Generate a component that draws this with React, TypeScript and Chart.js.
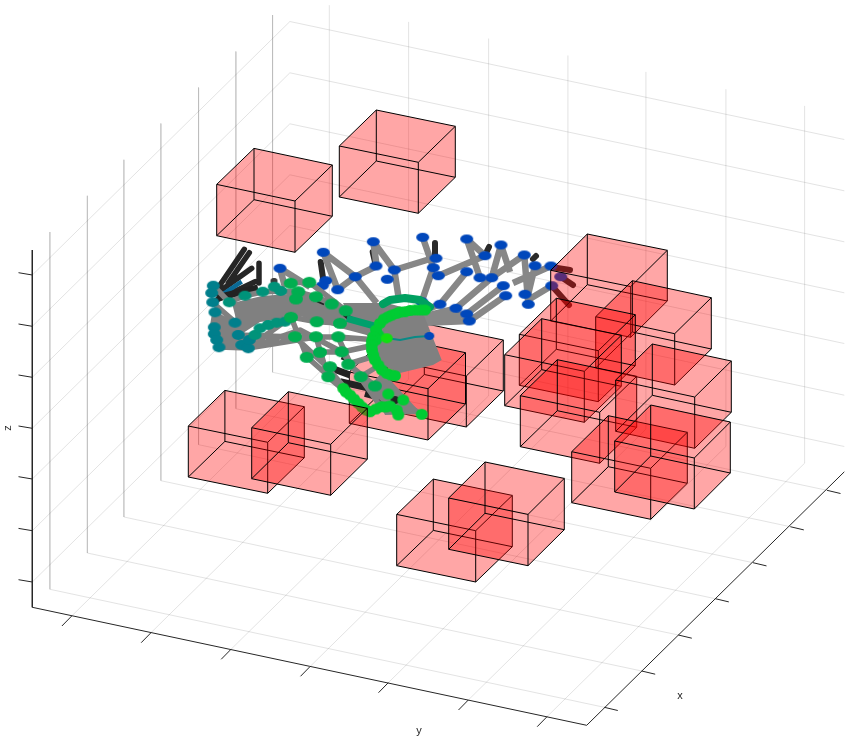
import React, { useEffect, useRef } from "react";
import { Chart, registerables } from "chart.js";

Chart.register(...registerables);

type P = number[];

// Picture-plane readings of the axes frame
const axisOrigin: P = [32.3, 607.3];
const axisYEnd: P = [586.7, 725.3];
const axisXEnd: P = [844.3, 471.8];
const axisZTopY = 250;
const zTickY = [275, 326.3, 377.3, 428.3, 479, 530.7, 582];
const yTickPts: P[] = [[71.7, 616], [151, 632.7], [231, 649.3], [310.3, 666.3], [388.3, 682.7], [468.3, 700], [547, 716.7]];
const xTickPts: P[] = [[604.3, 707.3], [641.7, 671], [678.3, 635], [715.3, 598.7], [753, 562.7], [790.3, 526.7], [827, 490.3]];

// Boxes: front-bottom-left, front-bottom-right, back-bottom-right, height
const boxesBehindHand = [
  { fl: [387.3, 410.5], fr: [466.3, 427], br: [503.3, 391], h: 51 },
  { fl: [349.3, 423.3], fr: [428, 440], br: [465.5, 404], h: 51.3 },
];
const boxesOverHand = [
  { fl: [216.7, 235.7], fr: [295, 252.3], br: [332.3, 216.3], h: 51.3 },
  { fl: [339.3, 197], fr: [418.3, 213.3], br: [455.3, 177.3], h: 51 },
  { fl: [188.3, 477], fr: [267.7, 493.3], br: [304.3, 457.7], h: 51 },
  { fl: [251.7, 478.7], fr: [330.7, 495.3], br: [367.3, 459.3], h: 51 },
  { fl: [396.7, 565.7], fr: [475.7, 582], br: [512.3, 546.7], h: 51.3 },
  { fl: [448.7, 549.3], fr: [528, 565.7], br: [564.3, 529.7], h: 51.3 },
  { fl: [550.7, 321], fr: [630.7, 337.3], br: [667.3, 301], h: 50.7 },
  { fl: [595.7, 368], fr: [674.7, 385], br: [711.3, 349], h: 51.3 },
  { fl: [519.3, 385.3], fr: [598.3, 401.7], br: [635.3, 365.7], h: 51 },
  { fl: [504.7, 405.7], fr: [584.3, 422.3], br: [621.3, 386.3], h: 51 },
  { fl: [520.3, 446.7], fr: [599.7, 463.3], br: [636.7, 427.3], h: 51 },
  { fl: [615.7, 431.3], fr: [694.7, 448.3], br: [731.3, 412.3], h: 51.3 },
  { fl: [571.7, 502.7], fr: [650.7, 519.3], br: [687.3, 483.3], h: 51 },
  { fl: [614.7, 492], fr: [694.3, 509], br: [730.3, 473], h: 51 },
];

// Hand: rods and joints
const blackRodsThin: P[][] = [
  [[435, 243], [435, 256]],
  [[489, 247], [485, 255]],
  [[536, 256], [533, 259]],
  [[320.7, 262], [323.3, 280]],
  [[372.7, 252], [375, 262]],
  [[560.7, 276.7], [573, 285]],
  [[551.7, 285.7], [569, 305]],
  [[551, 267], [570, 270]],
];
const blackRodsLeft: P[][] = [
  [[244.3, 249.3], [218, 288]],
  [[249.3, 252.7], [228.3, 283]],
  [[251.7, 268.3], [220, 291]],
  [[255, 281.7], [216.7, 300]],
  [[259, 263.3], [259, 283]],
  [[274, 281], [274, 286]],
];
const blueLinks: P[][] = [
  [[280, 268.3], [310, 287]],
  [[280, 268.3], [285, 287]],
  [[323.3, 252.3], [355.3, 276.7], [376.7, 266]],
  [[323.3, 252.3], [337.7, 289.7], [355.3, 276.7], [376.7, 303]],
  [[373.3, 241.7], [376.7, 266]],
  [[373.3, 241.7], [394.3, 270], [399, 300]],
  [[394.3, 270], [433.3, 258]],
  [[422.7, 237.3], [433.3, 267.7], [421.7, 301.7]],
  [[438.3, 275.7], [485, 255.7]],
  [[466.7, 239], [480, 277.7]],
  [[466.7, 239], [485, 255.7]],
  [[501, 245], [491.7, 277.7]],
  [[501, 245], [510, 272]],
  [[466.7, 271.7], [440, 304.3], [400, 320]],
  [[491.7, 277.7], [456, 308.3], [410, 320]],
  [[503.3, 285.7], [466.7, 314], [420, 320]],
  [[505.7, 295.7], [469.3, 321], [420, 323]],
  [[524.3, 255], [491.7, 277.7]],
  [[524.3, 255], [528.3, 304.3]],
  [[535, 265.7], [528, 295]],
  [[551, 266], [513, 283]],
  [[551.7, 285.7], [528, 300]],
];
const blueDots: P[] = [
  [373.3, 241.7], [422.7, 237.3], [466.7, 239], [501, 245], [524.3, 255], [485, 255.7], [551, 266], [535, 265.7],
  [394.3, 270], [433.3, 267.7], [436, 258.3], [376, 266], [387.3, 279.3], [438.3, 275.7], [466.7, 271.7], [480, 277.7],
  [491.7, 277.7], [503.3, 285.7], [551.7, 285.7], [560.7, 276.7], [505.7, 295.7], [525, 294.3], [528.3, 304.3],
  [440, 304.3], [456, 308.3], [466.7, 314], [469.3, 321], [421.7, 301.7], [280, 268.3], [323.3, 252.3], [325.7, 280.7],
  [322.3, 285.7], [337.7, 289.7], [355.3, 276.7],
];
const palmRight: P[] = [[343, 303], [387, 303], [423, 313], [427, 323], [441.7, 360], [433, 365], [400, 373], [377, 363], [372, 340], [350, 320]];
const palmTop: P[] = [[232, 303], [262, 296], [300, 293], [345, 306], [385, 310], [378, 338], [340, 328], [300, 316], [260, 322], [240, 335]];
const palmLeft: P[] = [[214, 312], [240, 322], [250, 345], [222, 346], [214, 330]];
const palmLower: P[] = [[383, 372], [421.7, 414], [385, 415], [370, 385]];
const tealRods: P[][] = [
  [[241.7, 281.7], [221.7, 295]],
  [[280, 298], [285, 315]],
];
const darkPieces: P[][] = [
  [[216.7, 298], [258, 288]],
  [[331.7, 368.3], [350, 375]],
  [[340, 381.7], [370, 388.3]],
  [[365, 393.3], [383.3, 398.3]],
  [[345, 313], [351, 318]],
  [[318, 299], [325, 302]],
  [[342, 356], [347, 358]],
];
const meshLinks: P[][] = [
  [[213.3, 285.7], [229, 302], [245, 295.7], [262, 292], [280.7, 291], [298, 292], [316, 297], [331.7, 304], [346, 311], [380, 325]],
  [[212, 302], [235, 322], [262, 300], [296, 299], [340, 323], [378, 335]],
  [[215, 312], [238, 335], [295, 337], [338, 337], [378, 340]],
  [[214, 327], [248, 348], [316, 337]],
  [[216.7, 340], [248, 348], [291, 317], [316.7, 321.7], [340, 323]],
  [[219, 347], [248, 348], [300, 330], [342, 352], [375, 345]],
  [[291, 283], [309, 282], [345, 310], [385, 305]],
  [[307, 357], [320, 352], [342, 352]],
  [[291, 317], [307, 357], [350, 395]],
  [[295, 337], [326, 366], [358, 403]],
  [[316, 337], [328, 377], [370, 412]],
  [[338, 337], [350, 363], [381, 407]],
  [[342, 352], [360, 377], [390, 406]],
  [[348, 364], [375, 386], [398, 410]],
  [[388, 394], [421, 414]],
  [[348, 364], [378, 355]],
  [[360, 377], [380, 365]],
  [[375, 386], [385, 372]],
  [[215, 312], [212, 330]],
  [[235, 322], [241, 345]],
  [[226, 340], [246, 345]],
];
const tealGreenStrip: P[][] = [[[346.7, 318.3], [376.7, 326.7]]];
const backArc: P[][] = [[[383, 304], [390, 300], [405, 298], [420, 300], [430, 307]]];
const palmWire: P[][] = [[[386, 338], [400, 340], [415, 337], [429, 336]]];
const tealDots: P[] = [
  [213.3, 285.7], [211.7, 293], [212.7, 302.3], [215, 312.3], [214.3, 327.3], [214.3, 334], [216.7, 340], [219, 347.3],
  [235, 322.7], [238.3, 335], [241.7, 345], [248.3, 348.3], [249.3, 340],
];
const midDots: P[] = [
  [229.3, 302.3], [245, 295.7], [262.7, 291.7], [255, 335], [260, 328.3], [268.3, 325], [276.7, 322.7], [285, 321.7],
  [274.3, 286.7], [280.7, 291],
];
const greenDots: P[] = [
  [290.7, 283.3], [309.3, 282.3], [298.3, 291.7], [296, 299], [316, 296.7], [331.7, 304], [345.7, 310.7], [291, 317.3],
  [316.7, 321.7], [340, 323.3], [338.3, 336.7], [316, 336.7], [295, 336.7], [320, 352.3], [306.7, 357.3], [341.7, 351.7],
  [348.3, 364.3], [330, 366.7], [328.3, 376.7], [360.7, 376.7], [375, 386],
];
const brightDots: P[] = [
  [343.3, 388.3], [346, 392], [350, 395], [354, 399], [358.3, 403.3], [362, 407], [366, 410], [370, 411.7], [376, 409],
  [381.7, 406.7], [386, 407], [390, 406], [403.3, 400], [396.7, 410], [398.3, 415], [421.7, 414.3], [388.3, 394],
  [378.3, 335], [376, 330], [380, 323.3], [384, 319], [388.3, 316.7], [392, 315], [396.7, 313.3], [400, 312], [405, 311.7],
  [410, 310.5], [415, 310], [420, 310], [425, 310], [373.3, 336.7], [376, 340], [372, 341], [371.7, 345], [372, 350],
  [373.3, 355], [375, 360], [378.3, 365], [382, 370], [386.7, 373.3], [391, 375], [395, 375.7],
];
const hotDots: P[] = [[386.7, 338.3]];
const wireDots: P[] = [[429.3, 336]];
const blackJoint: P[] = [[395, 400]];

const pts = (list: P[]) => list.map(([x, y]) => ({ x, y }));
const gaps = (lines: P[][]) => {
  const out: { x: number; y: number }[] = [];
  lines.forEach((l) => {
    out.push(...pts(l));
    out.push({ x: NaN, y: NaN });
  });
  return out;
};
const plus = (a: P, dx: number, dy: number): P => [a[0] + dx, a[1] + dy];

const line = (lines: P[][], color: string, width: number, cap = "butt") => ({
  data: gaps(lines),
  showLine: true,
  borderColor: color,
  borderWidth: width,
  borderCapStyle: cap,
  borderJoinStyle: "round",
  pointRadius: 0,
  fill: false,
  spanGaps: false,
});
const shape = (poly: P[], color: string) => ({
  data: pts([...poly, poly[0]]),
  showLine: true,
  borderWidth: 0,
  borderColor: "transparent",
  backgroundColor: color,
  pointRadius: 0,
  fill: "shape",
});
const ellipse = (color: string, rx: number, ry: number) => {
  const c = document.createElement("canvas");
  c.width = Math.ceil(rx * 2) + 2;
  c.height = Math.ceil(ry * 2) + 2;
  const g = c.getContext("2d")!;
  g.fillStyle = color;
  g.beginPath();
  g.ellipse(c.width / 2, c.height / 2, rx, ry, 0, 0, Math.PI * 2);
  g.fill();
  return c;
};
const dots = (list: P[], color: string, rx: number, ry: number) => ({
  data: pts(list),
  showLine: false,
  pointStyle: ellipse(color, rx, ry),
  pointRadius: rx,
  pointHoverRadius: rx,
});

const boxLayers = (b: { fl: P; fr: P; br: P; h: number }) => {
  const bl: P = [b.fl[0] + b.br[0] - b.fr[0], b.fl[1] + b.br[1] - b.fr[1]];
  const up = (p: P) => plus(p, 0, -b.h);
  const hull = [b.fl, b.fr, b.br, up(b.br), up(bl), up(b.fl)];
  const edges: P[][] = [
    [b.fl, b.fr, b.br, bl, b.fl],
    [up(b.fl), up(b.fr), up(b.br), up(bl), up(b.fl)],
    [b.fl, up(b.fl)],
    [b.fr, up(b.fr)],
    [b.br, up(b.br)],
    [bl, up(bl)],
  ];
  return [shape(hull, "rgba(255,0,0,0.35)"), line(edges, "#000000", 1)];
};

const gridLines = (): P[][] => {
  const Y: P = [axisYEnd[0] - axisOrigin[0], axisYEnd[1] - axisOrigin[1]];
  const D: P = [axisXEnd[0] - axisYEnd[0], axisXEnd[1] - axisYEnd[1]];
  const rise = axisOrigin[1] - axisZTopY;
  const out: P[][] = [];
  xTickPts.forEach((t) => {
    const a = plus(axisOrigin, t[0] - axisYEnd[0], t[1] - axisYEnd[1]);
    out.push([plus(a, 0, -rise), a, plus(a, Y[0], Y[1])]);
  });
  yTickPts.forEach((t) => {
    const top = plus(t, D[0], D[1]);
    out.push([t, top, plus(top, 0, -rise)]);
  });
  zTickY.forEach((z) => {
    const a: P = [axisOrigin[0], z];
    const c = plus(a, D[0], D[1]);
    out.push([a, c, plus(c, Y[0], Y[1])]);
  });
  return out;
};

const axisLabels = {
  id: "axisLabels",
  afterDraw(chart: any) {
    const { ctx, scales } = chart;
    const items = [
      { t: "x", x: 680, y: 696, r: 0 },
      { t: "y", x: 419, y: 731, r: 0 },
      { t: "z", x: 8, y: 428, r: -Math.PI / 2 },
    ];
    ctx.save();
    ctx.font = '11px "Liberation Sans"';
    ctx.fillStyle = "#262626";
    ctx.textAlign = "center";
    ctx.textBaseline = "middle";
    items.forEach((i) => {
      ctx.save();
      ctx.translate(scales.x.getPixelForValue(i.x), scales.y.getPixelForValue(i.y));
      ctx.rotate(i.r);
      ctx.fillText(i.t, 0, 0);
      ctx.restore();
    });
    ctx.restore();
  },
};

export default function App() {
  const ref = useRef<HTMLCanvasElement>(null);
  useEffect(() => {
    document.body.style.margin = "0";
    const axisPath: P[][] = [
      [[axisOrigin[0], axisZTopY], axisOrigin, axisYEnd, axisXEnd],
      ...zTickY.map((z): P[] => [[axisOrigin[0], z], [18.5, z - 2.3]]),
      ...yTickPts.map((t): P[] => [t, plus(t, -9.8, 10)]),
      ...xTickPts.map((t): P[] => [t, plus(t, 13.5, 3.2)]),
    ];
    const grey = "#808080";
    const bottomUp: any[] = [
      line(gridLines(), "rgba(38,38,38,0.13)", 1),
      line(axisPath, "#262626", 1),
      ...boxesBehindHand.flatMap(boxLayers),
      line(blackRodsThin, "#2a2a2a", 6, "round"),
      line(blueLinks, "#878787", 6.5),
      dots(blueDots, "#0047bb", 6.5, 4.5),
      line(blackRodsLeft, "#262626", 5.5, "round"),
      dots([[274, 281]], "#3a3a3a", 3.5, 3),
      line(tealRods, "#0a6a96", 4.5),
      shape(palmRight, grey),
      shape(palmTop, grey),
      shape(palmLeft, grey),
      shape(palmLower, grey),
      line(darkPieces, "#222222", 7),
      line(meshLinks, grey, 5.5),
      line(backArc, "#00a060", 8, "round"),
      line(tealGreenStrip, "#00a06c", 7),
      line(palmWire, "#0a8a86", 2),
      dots(wireDots, "#0047bb", 5, 4),
      dots(blackJoint, "#222222", 4.5, 4),
      dots(tealDots, "#007f8c", 6.5, 5),
      dots(midDots, "#00937a", 6.5, 5),
      dots(greenDots, "#00ae50", 7, 5.5),
      dots(brightDots, "#00cc33", 6, 5.5),
      dots(hotDots, "#10e010", 6, 5),
      ...boxesOverHand.flatMap(boxLayers),
    ];
    const chart = new Chart(ref.current!, {
      type: "scatter",
      data: { datasets: bottomUp.slice().reverse() },
      plugins: [axisLabels],
      options: {
        animation: false,
        responsive: false,
        events: [],
        layout: { padding: 0, autoPadding: false },
        plugins: { legend: { display: false }, tooltip: { enabled: false } },
        scales: {
          x: { type: "linear", min: 0, max: 850, display: false },
          y: { type: "linear", min: 0, max: 742, reverse: true, display: false },
        },
      },
    } as any);
    return () => chart.destroy();
  }, []);
  return <canvas ref={ref} width={850} height={742} style={{ display: "block" }} />;
}
